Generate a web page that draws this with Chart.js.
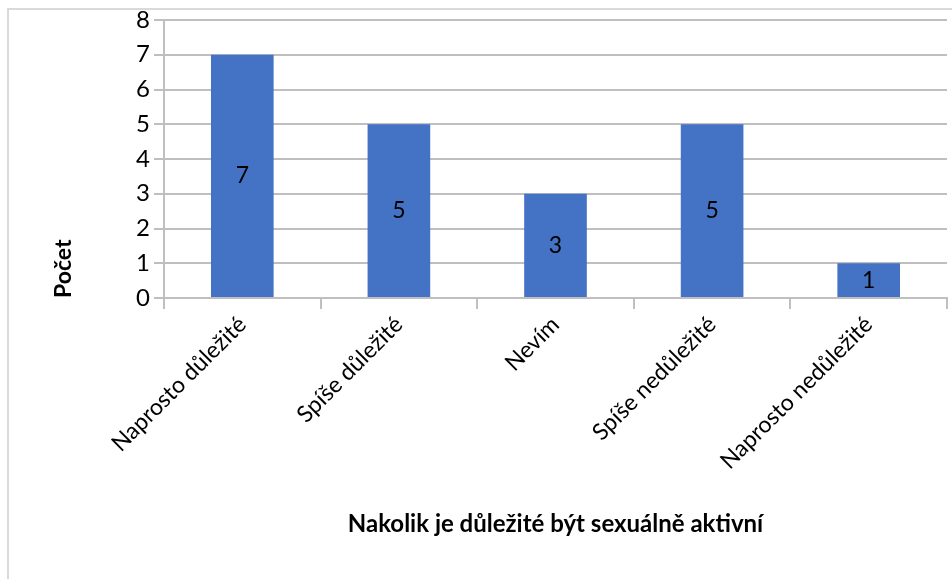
<!DOCTYPE html>
<html>
<head>
<meta charset="utf-8">
<script src="https://cdn.jsdelivr.net/npm/chart.js@4"></script>
<style>
    body { margin: 0; background: #fff; }
    #wrap { position: relative; width: 952px; height: 579px; overflow: hidden; }
    #frame { position: absolute; left: 7px; top: 8px; width: 980px; height: 620px; border: 2px solid #d9d9d9; box-sizing: border-box; }
    canvas { position: absolute; left: 0; top: 0; }
</style>
</head>
<body>
<div id="wrap">
    <div id="frame"></div>
    <canvas id="chart" width="952" height="579"></canvas>
</div>
<script>
const categories = ['Naprosto důležité', 'Spíše důležité', 'Nevím', 'Spíše nedůležité', 'Naprosto nedůležité'];
const counts = [7, 5, 3, 5, 1];
const yTicks = [0, 1, 2, 3, 4, 5, 6, 7, 8];

const fontFamily = 'Lato, "Noto Sans", sans-serif';

// value labels in the middle of each bar
const barLabels = {
    id: 'barLabels',
    afterDatasetsDraw(chart) {
        const ctx = chart.ctx;
        const meta = chart.getDatasetMeta(0);
        ctx.save();
        ctx.font = '23px ' + fontFamily;
        ctx.fillStyle = '#000';
        ctx.textAlign = 'center';
        ctx.textBaseline = 'middle';
        meta.data.forEach((bar, i) => {
            const mid = (bar.y + bar.base) / 2;
            ctx.fillText(String(counts[i]), bar.x, mid);
        });
        ctx.restore();
    }
};

const ctx = document.getElementById('chart').getContext('2d');
new Chart(ctx, {
    type: 'bar',
    data: {
        labels: categories,
        datasets: [{
            label: 'Počet',
            data: counts,
            backgroundColor: '#4472C4',
            categoryPercentage: 1,
            barPercentage: 0.4
        }]
    },
    options: {
        responsive: false,
        animation: false,
        layout: { padding: { left: 10, right: 5, top: 20, bottom: 40 } },
        plugins: {
            legend: { display: false },
            tooltip: { enabled: false }
        },
        scales: {
            x: {
                grid: {
                    offset: true,
                    drawOnChartArea: false,
                    color: '#bfbfbf',
                    lineWidth: 2,
                    tickLength: 11
                },
                border: { color: '#bfbfbf', width: 2 },
                ticks: {
                    color: '#000',
                    font: { family: fontFamily, size: 23 },
                    maxRotation: 45,
                    minRotation: 45,
                    padding: 2
                },
                title: {
                    display: true,
                    text: 'Nakolik je důležité být sexuálně aktivní',
                    color: '#000',
                    font: { family: fontFamily, size: 24, weight: 'bold' },
                    padding: { top: 0, bottom: 0 }
                },
                afterFit(scale) { scale.height = 241; }
            },
            y: {
                min: 0,
                max: 8,
                afterBuildTicks(scale) { scale.ticks = yTicks.map(v => ({ value: v })); },
                grid: {
                    color: '#bfbfbf',
                    lineWidth: 2,
                    tickLength: 10
                },
                border: { color: '#bfbfbf', width: 2 },
                ticks: {
                    color: '#000',
                    font: { family: fontFamily, size: 24 },
                    padding: 4
                },
                title: {
                    display: true,
                    text: 'Počet',
                    align: 'start',
                    color: '#000',
                    font: { family: fontFamily, size: 23, weight: 'bold' },
                    padding: { top: 40, bottom: 0 }
                },
                afterFit(scale) { scale.width = 154; }
            }
        }
    },
    plugins: [barLabels]
});
</script>
</body>
</html>
